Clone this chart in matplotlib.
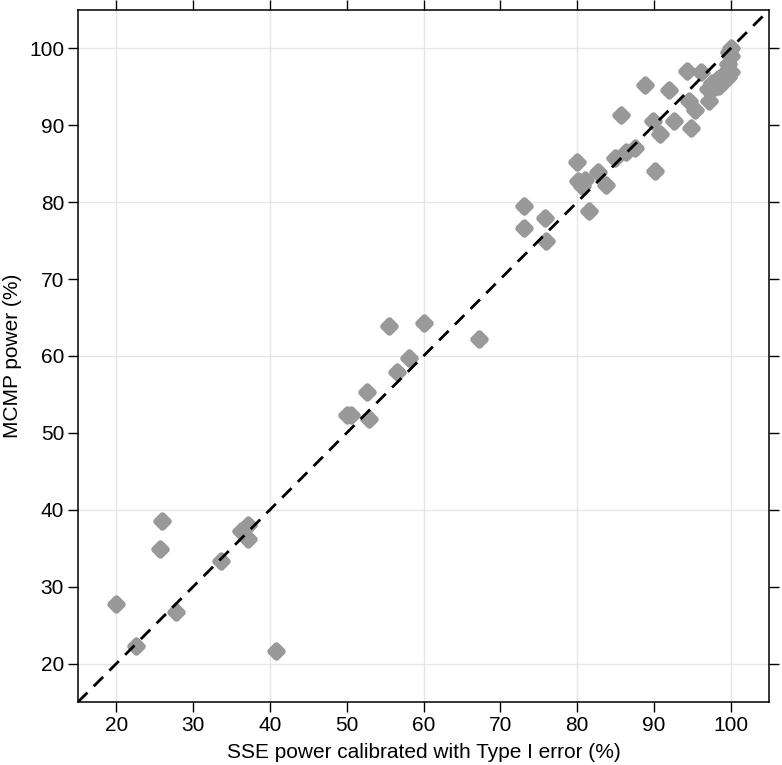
import matplotlib
matplotlib.use("Agg")
import matplotlib.pyplot as plt
from matplotlib.markers import MarkerStyle
import numpy as np

plt.rcParams['font.family'] = ['Liberation Sans', 'DejaVu Sans']

sse_power = [20.0, 22.6, 26.0, 25.7, 27.7, 33.6, 36.2, 37.2, 37.2, 40.8,
             50.1, 50.5, 52.9, 52.6, 56.6, 58.1, 55.5, 60.0, 67.2, 73.1,
             73.1, 75.8, 76.0,
             80.0, 80.1, 81.0, 80.6, 82.7, 83.8, 81.6, 84.9, 86.4, 87.5,
             90.1, 90.8, 85.7, 88.8, 89.9, 92.6, 92.0, 94.3, 94.8, 94.6,
             95.3, 96.1, 97.0, 97.2, 97.6, 98.3, 98.5, 99.2, 99.6, 100.0,
             99.7, 100.0, 100.0, 99.8, 98.0, 99.0]
mcmp_power = [27.7, 22.3, 38.5, 34.9, 26.7, 33.3, 37.3, 38.0, 36.2, 21.6,
              52.3, 52.3, 51.8, 55.3, 57.9, 59.7, 63.9, 64.3, 62.2, 79.5,
              76.6, 77.9, 74.9,
              85.2, 82.7, 82.9, 82.1, 83.9, 82.2, 78.8, 85.8, 86.5, 87.1,
              84.0, 88.9, 91.4, 95.3, 90.5, 90.6, 94.6, 97.1, 89.7, 93.2,
              92.0, 97.0, 94.7, 93.2, 95.5, 96.0, 95.1, 96.7, 96.3, 97.0,
              98.0, 99.0, 100.0, 99.5, 95.0, 95.6]

axis_min, axis_max = 15, 105
major_ticks = list(range(20, 101, 10))
grid_ticks = list(range(20, 101, 20))

fig = plt.figure(figsize=(7.82, 7.65), dpi=100)
ax = fig.add_axes([78/782, 1 - 702/765, (769-78)/782, (702-10)/765])

for g in grid_ticks:
    ax.axvline(g, color='#e6e6e6', lw=1.0, zorder=0)
    ax.axhline(g, color='#e6e6e6', lw=1.0, zorder=0)

mk = MarkerStyle((4, 0, 0), joinstyle='round')
ax.plot(sse_power, mcmp_power, linestyle='none', marker=mk, markersize=8.8,
        markerfacecolor='#999999', markeredgecolor='#999999',
        markeredgewidth=4.6, zorder=2)
ax.plot([axis_min, axis_max], [axis_min, axis_max], color='black', lw=2.0,
        linestyle=(0, (4.8, 3.2)), zorder=3)

ax.set_xlim(axis_min, axis_max)
ax.set_ylim(axis_min, axis_max)
ax.set_xticks(major_ticks)
ax.set_yticks(major_ticks)
ax.tick_params(direction='out', length=7, width=1.0, labelsize=15,
               top=True, right=True, labeltop=False, labelright=False, pad=3)
for s in ax.spines.values():
    s.set_linewidth(1.1)

ax.set_xlabel('SSE power calibrated with Type I error (%)', fontsize=15, labelpad=6)
ax.set_ylabel('MCMP power (%)', fontsize=15, labelpad=5)

fig.savefig('out.png', dpi=100)
